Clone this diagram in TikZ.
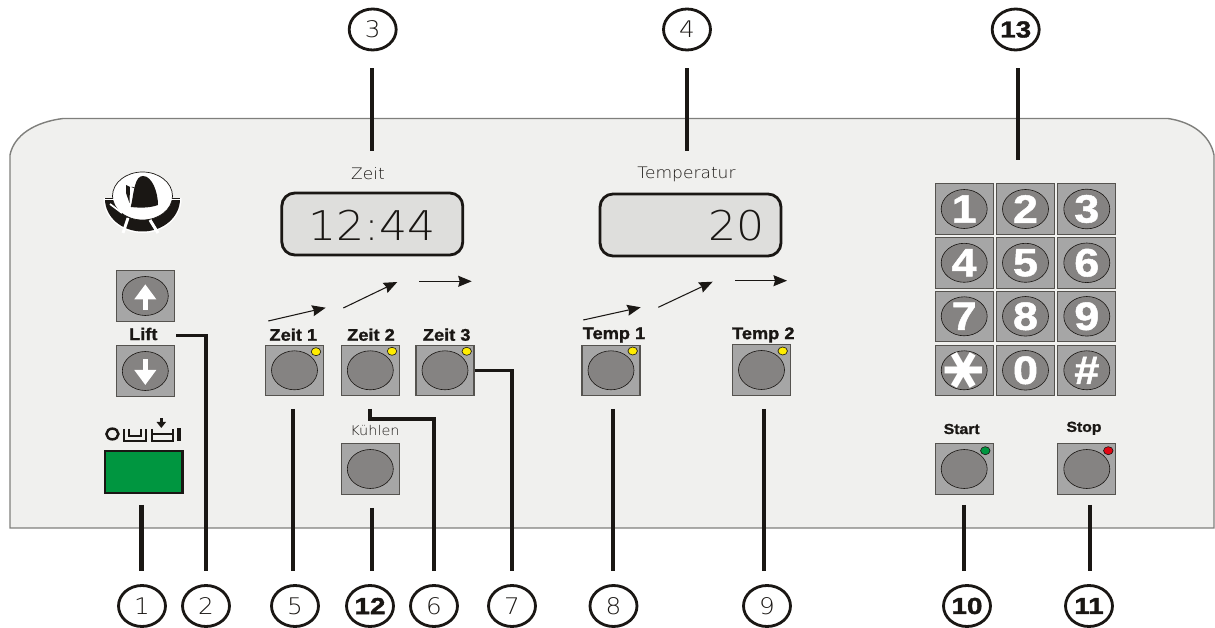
\documentclass[tikz,border=0pt]{standalone}
\usepackage{fontspec}
\usepackage{xcolor}
\usepackage{tikz}
\usetikzlibrary{shapes,arrows.meta,calc}
\setmainfont{Liberation Sans}
\newfontfamily\tsThinFont[FakeStretch=1.08]{DejaVu Sans ExtraLight}
\newfontfamily\tsBoldFont[FakeStretch=1.08,FakeBold=1.2]{Liberation Sans Bold}
\newfontfamily\tsWideFont[FakeStretch=1.2,FakeBold=1.6]{Liberation Sans Bold}
\newfontfamily\tsKeyFont[FakeStretch=1.14,FakeBold=1.2]{Liberation Sans Bold}
\newfontfamily\tsStarFont{DejaVu Sans Bold}
\definecolor{panelFill}{HTML}{F0F0EE}
\definecolor{panelLine}{HTML}{7F7F7C}
\definecolor{inkDark}{HTML}{1A1714}
\definecolor{keyFill}{HTML}{A6A6A6}
\definecolor{keyLine}{HTML}{55534F}
\definecolor{capFill}{HTML}{858382}
\definecolor{lcdFill}{HTML}{DEDEDC}
\definecolor{ledYellow}{HTML}{FFED00}
\definecolor{ledGreen}{HTML}{009640}
\definecolor{ledRed}{HTML}{E30613}
\tikzstyle{tsCap} = [
    ellipse,
    draw=inkDark,
    line width=0.35pt,
    fill=capFill,
    inner sep=0pt,
    minimum width=0.92cm,
    minimum height=0.78cm,
    text=white,
    font=\tsKeyFont\fontsize{22.5}{23}\selectfont
]
\tikzset{
    tsKey/.style={
        rectangle,
        draw=keyLine,
        line width=0.6pt,
        fill=keyFill,
        inner sep=0pt,
        minimum width=1.16cm,
        minimum height=1.01cm,
        label={[tsCap]center:#1}
    },
    tsKey/.default={}
}
\tikzstyle{tsLed} = [
    ellipse,
    draw=inkDark,
    line width=0.35pt,
    inner sep=0pt,
    minimum width=0.19cm,
    minimum height=0.16cm
]
\tikzstyle{tsDisplay} = [
    rectangle,
    rounded corners=0.26cm,
    draw=inkDark,
    line width=1.6pt,
    fill=lcdFill,
    minimum width=3.62cm,
    minimum height=1.24cm
]
\tikzstyle{tsLcdText} = [
    text=inkDark,
    inner sep=0pt,
    font=\tsThinFont\fontsize{23.3}{24}\selectfont
]
\tikzstyle{tsThinLabel} = [
    text=inkDark,
    inner sep=0pt,
    font=\tsThinFont\fontsize{9}{10}\selectfont
]
\tikzstyle{tsBoldLabel} = [
    text=inkDark,
    inner sep=0pt,
    font=\tsBoldFont\fontsize{9.6}{10}\selectfont
]
\tikzstyle{tsSmallBold} = [
    tsBoldLabel,
    font=\tsBoldFont\fontsize{8.3}{9}\selectfont
]
\tikzstyle{tsNumber} = [
    ellipse,
    draw=inkDark,
    line width=1.6pt,
    fill=white,
    inner sep=0pt,
    minimum width=0.94cm,
    minimum height=0.82cm,
    text=inkDark,
    font=\tsThinFont\fontsize{13}{14}\selectfont
]
\tikzstyle{tsNumberBold} = [
    tsNumber,
    font=\tsWideFont\fontsize{13.2}{14}\selectfont
]
\tikzstyle{tsLeader} = [
    draw=inkDark,
    line width=2.2pt,
    shorten >=0.27cm
]
\tikzstyle{tsLeaderThin} = [
    tsLeader,
    line width=1.8pt
]
\tikzstyle{tsLeaderTop} = [
    tsLeader,
    shorten >=0.34cm
]
\tikzstyle{tsFlow} = [
    draw=inkDark,
    line width=0.6pt,
    -{Stealth[length=0.27cm,width=0.22cm,inset=0.03cm]}
]
\tikzstyle{tsLiftArrow} = [
    draw=white,
    line width=2.7pt,
    -{Triangle[length=0.3cm,width=0.42cm]}
]
\begin{document}
\begin{tikzpicture}[x=0.02cm, y=-0.02cm]
    \useasboundingbox (0,0) rectangle (1215,628);

    % housing
    \draw[fill=panelFill, draw=panelLine, line width=0.8pt]
        (10,528) -- (10,155) .. controls (14,135) and (35,122) .. (63,118.5)
        -- (1168,118.5) .. controls (1192,122) and (1210,135) .. (1214,155)
        -- (1214,528) -- cycle;

    % logo
    \begin{scope}
        \clip (100,199) rectangle (185,240);
        \fill[white] (142.5,199) ellipse [x radius=39, y radius=34];
        \fill[inkDark] (142.5,199) ellipse [x radius=37.5, y radius=32.5];
    \end{scope}
    \draw[fill=white, draw=inkDark, line width=0.4pt] (142.5,196) ellipse [x radius=30, y radius=24];
    \draw[white, line width=1.7pt] (128,218) -- (123,233);
    \draw[white, line width=1.7pt] (150,220) -- (158,233);
    \draw[white, line width=1pt] (110,204) -- (122,213);
    \fill[white] (104,199) rectangle (181,200);
    \fill[inkDark] (131,207) .. controls (134,190) and (135,176) .. (143,176)
        .. controls (152,176) and (158,192) .. (158,205)
        .. controls (150,208) and (140,208) .. cycle;
    \fill[inkDark] (126,185) -- (130,187) -- (129.5,203) -- (126,193) -- cycle;
    \draw[inkDark, line width=0.35pt] (131.7,187) -- (136.7,188.5) -- (131,207);

    % displays
    \node[tsThinLabel] (zeitlabel) at (368,174) {Zeit};
    \node[tsThinLabel] (templabel) at (686.5,174) {Temperatur};
    \node[tsDisplay] (zeitlcd) at (372.3,224) {};
    \node[tsDisplay] (templcd) at (690.5,225) {};
    \node[tsLcdText] (zeitvalue) at (372,225) {12:44};
    \node[tsLcdText] (tempvalue) at (736.5,226) {20};

    % order of the programme steps
    \coordinate (flowastart) at (268.3,321);
    \coordinate (flowaend) at (325.7,307.7);
    \coordinate (flowbstart) at (343.3,308);
    \coordinate (flowbend) at (397.3,282);
    \coordinate (flowcstart) at (419.3,281.3);
    \coordinate (flowcend) at (471.7,281.3);
    \coordinate (flowdstart) at (583.3,320);
    \coordinate (flowdend) at (640.7,307.3);
    \coordinate (flowestart) at (658.3,307.3);
    \coordinate (floweend) at (712.7,281.7);
    \coordinate (flowfstart) at (735,280.7);
    \coordinate (flowfend) at (787,280.7);
    \draw[tsFlow] (flowastart) -- (flowaend);
    \draw[tsFlow] (flowbstart) -- (flowbend);
    \draw[tsFlow] (flowcstart) -- (flowcend);
    \draw[tsFlow] (flowdstart) -- (flowdend);
    \draw[tsFlow] (flowestart) -- (floweend);
    \draw[tsFlow] (flowfstart) -- (flowfend);

    % lift and main switch
    \node[tsKey] (liftup) at (145.3,296) {};
    \node[tsKey] (liftdown) at (145.3,371) {};
    \draw[tsLiftArrow] ([yshift=-0.28cm]liftup.center) -- ([yshift=0.234cm]liftup.center);
    \draw[tsLiftArrow] ([yshift=0.234cm]liftdown.center) -- ([yshift=-0.28cm]liftdown.center);
    \node[tsBoldLabel] (liftlabel) at (143.3,334) {Lift};
    \node[rectangle, draw=inkDark, line width=1.5pt, fill=ledGreen, inner sep=0pt,
          minimum width=1.55cm, minimum height=0.84cm] (mainswitch) at (143.8,472) {};

    % symbols above the main switch
    \draw[inkDark, line width=1.4pt] (112.4,434) ellipse [x radius=6, y radius=5.4];
    \draw[inkDark, line width=1.1pt] (124,429) -- (124,441) -- (146,441) -- (146,429);
    \draw[inkDark, line width=1.1pt] (129,429) -- (129,436) -- (141,436) -- (141,429);
    \draw[inkDark, line width=1.1pt] (152,429) -- (152,441) -- (173,441) -- (173,429);
    \draw[inkDark, line width=1.1pt] (152,434) -- (173,434);
    \fill[inkDark] (179,428) ++(-1.8,0) rectangle ++(3.6,13.5);
    \fill[inkDark] (159.5,418) rectangle (163,423);
    \fill[inkDark] (156.5,422) -- (166,422) -- (161.3,428) -- cycle;

    % time and temperature keys
    \node[tsBoldLabel] (zeitalabel) at (293.3,334.7) {Zeit 1};
    \node[tsBoldLabel] (zeitblabel) at (371,334.7) {Zeit 2};
    \node[tsBoldLabel] (zeitclabel) at (446.7,334.7) {Zeit 3};
    \node[tsBoldLabel] (tempalabel) at (614,335) {Temp 1};
    \node[tsBoldLabel] (tempblabel) at (763.3,335) {Temp 2};
    \node[tsKey] (zeita) at (294.5,370.3) {};
    \node[tsKey] (zeitb) at (370.3,370.3) {};
    \node[tsKey] (zeitc) at (445,370.3) {};
    \node[tsKey] (tempa) at (611,370.3) {};
    \node[tsKey] (tempb) at (761.5,370) {};
    \node[tsLed, fill=ledYellow] (zeitaled) at (316,351.7) {};
    \node[tsLed, fill=ledYellow] (zeitbled) at (392,351.3) {};
    \node[tsLed, fill=ledYellow] (zeitcled) at (466.7,351.3) {};
    \node[tsLed, fill=ledYellow] (tempaled) at (632.7,351) {};
    \node[tsLed, fill=ledYellow] (tempbled) at (782.7,351) {};
    \node[tsThinLabel, font=\tsThinFont\fontsize{7.6}{8}\selectfont] (coollabel) at (375,430.7) {Kühlen};
    \node[tsKey] (coolkey) at (370.3,469) {};

    % keypad
    \node[tsKey=1] (keyone) at (964.2,209) {};
    \node[tsKey=2] (keytwo) at (1025.5,209) {};
    \node[tsKey=3] (keythree) at (1086.8,209) {};
    \node[tsKey=4] (keyfour) at (964.2,262.8) {};
    \node[tsKey=5] (keyfive) at (1025.5,262.8) {};
    \node[tsKey=6] (keysix) at (1086.8,262.8) {};
    \node[tsKey=7] (keyseven) at (964.2,316.3) {};
    \node[tsKey=8] (keyeight) at (1025.5,316.3) {};
    \node[tsKey=9] (keynine) at (1086.8,316.3) {};
    \node[tsKey] (keystar) at (964.2,370.3) {};
    \node[text=white, inner sep=0pt, rotate=90, font=\tsStarFont\fontsize{34}{34}\selectfont] (starmark) at (keystar) {∗};
    \node[tsKey=0] (keyzero) at (1025.5,370.3) {};
    \node[tsKey=\#] (keyhash) at (1086.8,370.3) {};

    % start and stop
    \node[tsSmallBold] (startlabel) at (961.7,429) {Start};
    \node[tsSmallBold] (stoplabel) at (1084,428.3) {Stop};
    \node[tsKey] (startkey) at (964.2,469) {};
    \node[tsKey] (stopkey) at (1086.8,469) {};
    \node[tsLed, fill=ledGreen] (startled) at (985.3,450.7) {};
    \node[tsLed, fill=ledRed] (stopled) at (1108.3,450.7) {};

    % reference numbers
    \node[tsNumber] (numone) at (142,606) {1};
    \node[tsNumber] (numtwo) at (206,606) {2};
    \node[tsNumber] (numthree) at (372.7,29.5) {3};
    \node[tsNumber] (numfour) at (687,29.5) {4};
    \node[tsNumber] (numfive) at (295,606) {5};
    \node[tsNumber] (numsix) at (434,606) {6};
    \node[tsNumber] (numseven) at (512,606) {7};
    \node[tsNumber] (numeight) at (613.5,606) {8};
    \node[tsNumber] (numnine) at (767,606) {9};
    \node[tsNumberBold] (numten) at (967,606) {10};
    \node[tsNumberBold] (numeleven) at (1089,606) {11};
    \node[tsNumberBold] (numtwelve) at (370,606) {12};
    \node[tsNumberBold] (numthirteen) at (1015.7,29.5) {13};

    % leader lines
    \coordinate (leadone) at (141.5,505);
    \coordinate (leadtwo) at (176,335.7);
    \coordinate (leadthree) at (372,151);
    \coordinate (leadfour) at (687,151);
    \coordinate (leadfive) at (293,409);
    \coordinate (leadsix) at (370,409);
    \coordinate (bendsix) at (370,419);
    \coordinate (leadeight) at (613,409);
    \coordinate (leadnine) at (764,409);
    \coordinate (leadten) at (964,505);
    \coordinate (leadeleven) at (1090,505);
    \coordinate (leadtwelve) at (372,508);
    \coordinate (leadthirteen) at (1018,160);
    \draw[tsLeader, line width=2.8pt] (leadone) -- (leadone |- numone.north);
    \draw[tsLeaderThin] (leadtwo) -| (numtwo.north);
    \draw[tsLeaderTop] (leadthree) -- (leadthree |- numthree.south);
    \draw[tsLeaderTop] (leadfour) -- (leadfour |- numfour.south);
    \draw[tsLeader] (leadfive) -- (leadfive |- numfive.north);
    \draw[tsLeaderThin] (leadsix) -- (bendsix) -| (numsix.north);
    \draw[tsLeaderThin] (zeitc.east) -| (numseven.north);
    \draw[tsLeader] (leadeight) -- (leadeight |- numeight.north);
    \draw[tsLeader] (leadnine) -- (leadnine |- numnine.north);
    \draw[tsLeaderThin] (leadten) -- (leadten |- numten.north);
    \draw[tsLeaderThin] (leadeleven) -- (leadeleven |- numeleven.north);
    \draw[tsLeaderThin] (leadtwelve) -- (leadtwelve |- numtwelve.north);
    \draw[tsLeaderTop] (leadthirteen) -- (leadthirteen |- numthirteen.south);

\end{tikzpicture}
\end{document}
